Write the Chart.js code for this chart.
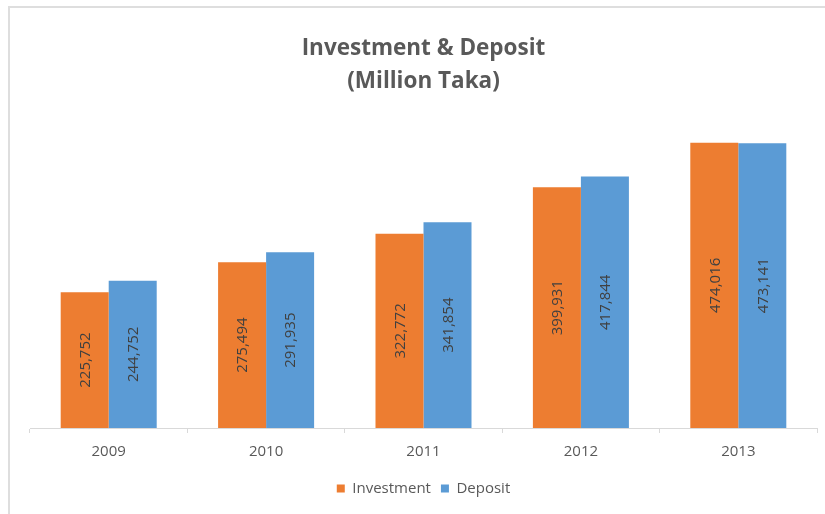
<!DOCTYPE html>
<html>
<head>
<meta charset="utf-8">
<script src="https://cdn.jsdelivr.net/npm/chart.js@4"></script>
<style>
  html, body { margin: 0; padding: 0; background: #fff; }
  #wrap { position: relative; width: 825px; height: 514px; overflow: hidden; }
  #frame { position: absolute; left: 8px; top: 6px; width: 900px; height: 600px;
           border: 2px solid #dedede; pointer-events: none; }
  canvas { position: absolute; left: 0; top: 0; }
</style>
</head>
<body>
<div id="wrap">
  <canvas id="chart" width="825" height="514"></canvas>
  <div id="frame"></div>
</div>
<script>
// years on the x axis
const years = ["2009", "2010", "2011", "2012", "2013"];
// values in million Taka
const investment = [225752, 275494, 322772, 399931, 474016];
const deposit = [244752, 291935, 341854, 417844, 473141];

const titleLines = ["Investment & Deposit", "(Million Taka)"];

const ORANGE = "#ED7D31";
const BLUE = "#5B9BD5";
const FONT = "'Open Sans', sans-serif";

// draws the value sideways in the middle of each bar
const barValues = {
  id: "barValues",
  afterDatasetsDraw(chart) {
    const ctx = chart.ctx;
    ctx.save();
    ctx.font = "15px " + FONT;
    ctx.fillStyle = "#404040";
    ctx.textAlign = "center";
    ctx.textBaseline = "middle";
    chart.data.datasets.forEach((ds, i) => {
      const meta = chart.getDatasetMeta(i);
      meta.data.forEach((bar, j) => {
        const mid = (bar.y + bar.base) / 2;
        ctx.save();
        ctx.translate(bar.x, mid);
        ctx.rotate(-Math.PI / 2);
        ctx.fillText(ds.data[j].toLocaleString("en-US"), 0, 1);
        ctx.restore();
      });
    });
    ctx.restore();
  }
};

const ctx = document.getElementById("chart").getContext("2d");
new Chart(ctx, {
  type: "bar",
  data: {
    labels: years,
    datasets: [
      { label: "Investment", data: investment, backgroundColor: ORANGE,
        categoryPercentage: 0.61, barPercentage: 1 },
      { label: "Deposit", data: deposit, backgroundColor: BLUE,
        categoryPercentage: 0.61, barPercentage: 1 }
    ]
  },
  options: {
    responsive: false,
    animation: false,
    layout: { padding: { left: 30, right: 8, top: 32, bottom: 8 } },
    plugins: {
      title: {
        display: true,
        text: titleLines,
        color: "#595959",
        font: { family: FONT, size: 22.5, weight: "bold", lineHeight: 1.47 },
        padding: { top: 0, bottom: 29 }
      },
      legend: {
        position: "bottom",
        labels: {
          color: "#595959",
          font: { family: FONT, size: 15 },
          boxWidth: 8,
          boxHeight: 8,
          padding: 10
        }
      },
      tooltip: { enabled: false }
    },
    scales: {
      x: {
        grid: { display: true, drawOnChartArea: false, tickLength: 5, color: "#d9d9d9", offset: true },
        border: { color: "#d9d9d9", width: 1 },
        ticks: { color: "#595959", font: { family: FONT, size: 15 }, padding: 10 }
      },
      y: {
        display: false,
        min: 0,
        max: 500000
      }
    }
  },
  plugins: [barValues]
});
</script>
</body>
</html>
